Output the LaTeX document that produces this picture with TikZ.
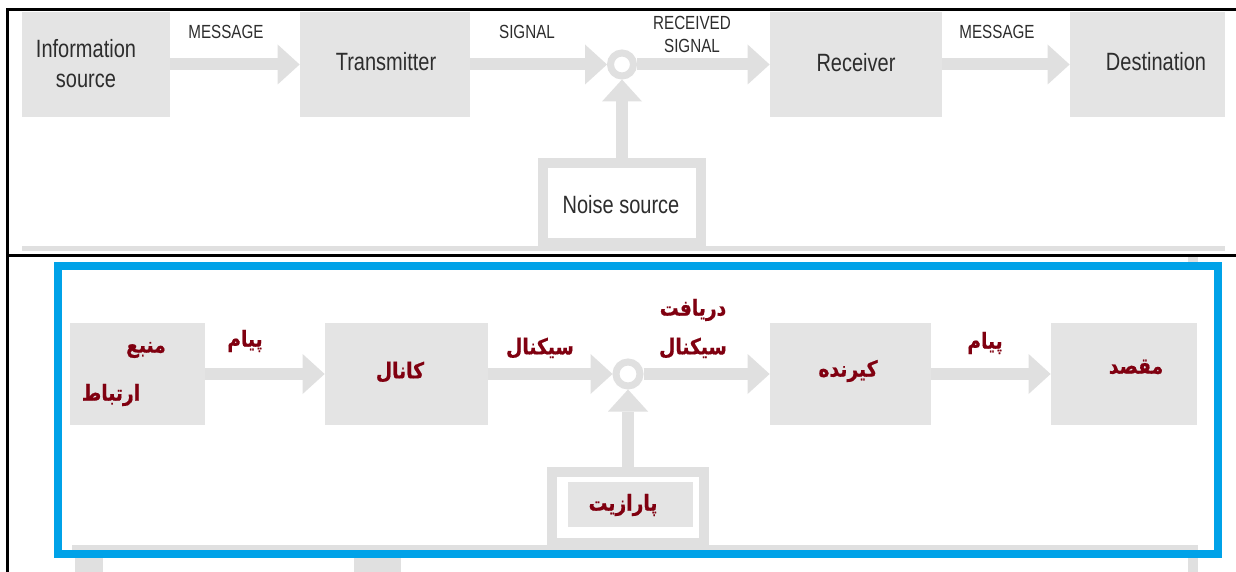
\documentclass[tikz,border=0pt]{standalone}
\usepackage{fontspec}
\setmainfont{Liberation Sans}
\newfontfamily\condfont[FakeStretch=0.8]{Liberation Sans}
\newfontfamily\fafont[Script=Arabic, FakeStretch=0.85, BoldFeatures={FakeBold=0.8}]{DejaVu Sans}
\TeXXeTstate=1
\usepackage{tikz}
\usetikzlibrary{arrows.meta}
\definecolor{boxgray}{RGB}{228,228,228}
\definecolor{linegray}{RGB}{224,224,224}
\definecolor{textgray}{RGB}{45,45,45}
\definecolor{faRed}{RGB}{128,0,16}
\definecolor{frameblue}{RGB}{0,162,232}

\begin{document}
\begin{tikzpicture}[x=0.5pt, y=-0.5pt,
    blockbox/.style={fill=boxgray, inner sep=0pt},
    flow/.style={draw=linegray, line width=6pt,
      -{Triangle[length=11pt, width=20pt, line width=0pt]}},
    sumring/.style={circle, draw=linegray, fill=white, inner sep=0pt},
    noiseframe/.style={draw=linegray, line width=5pt, fill=white, inner sep=0pt},
    boxtext/.style={font=\condfont\fontsize{12.5}{15}\selectfont, text=textgray, align=center},
    flowlabel/.style={font=\condfont\fontsize{9.5}{11.5}\selectfont, text=textgray, align=center},
    fatext/.style={font=\fafont\bfseries\fontsize{11}{13}\selectfont, text=faRed}]
  \useasboundingbox[fill=white] (0,0) rectangle (1236,572);

  % english diagram
  \fill[linegray] (22,246) rectangle (1225,251);
  \node[blockbox, minimum width=74pt, minimum height=52.5pt] (src) at (96,64.5) {};
  \node[blockbox, minimum width=85pt, minimum height=52.5pt] (tx) at (385,64.5) {};
  \node[blockbox, minimum width=86pt, minimum height=52.5pt] (rx) at (856,64.5) {};
  \node[blockbox, minimum width=77.5pt, minimum height=52.5pt] (dst) at (1147.5,64.5) {};
  \node[sumring, line width=3.5pt, minimum size=11.5pt] (sum) at (622,64.5) {};
  \node[noiseframe, minimum width=79pt, minimum height=40pt] (noise) at (622,203) {};

  \draw[flow] (src) -- (tx);
  \draw[flow] (tx) -- (sum);
  \draw[flow] (sum) -- (rx);
  \draw[flow] (rx) -- (dst);
  \draw[flow] (noise) -- (sum);

  \node[boxtext] (srctxt) at (86,64) {Information\\source};
  \node[boxtext] (txtxt) at (386,62) {Transmitter};
  \node[boxtext] (rxtxt) at (856,63) {Receiver};
  \node[boxtext] (dsttxt) at (1156,62) {Destination};
  \node[boxtext] (noisetxt) at (621,205) {Noise source};
  \node[flowlabel] (msga) at (226,32) {MESSAGE};
  \node[flowlabel] (sig) at (527,32) {SIGNAL};
  \node[flowlabel] (rsig) at (692,34) {RECEIVED\\SIGNAL};
  \node[flowlabel] (msgb) at (997,32) {MESSAGE};

  % persian diagram
  \fill[linegray] (1188,257) rectangle (1198,262);
  \fill[linegray] (75,558) rectangle (103,572);
  \fill[linegray] (354,558) rectangle (401,572);
  \fill[linegray] (1188,558) rectangle (1198,572);
  \fill[linegray] (72,545) rectangle (1198,550);
  \node[blockbox, minimum width=67.5pt, minimum height=51pt] (fsrc) at (137.5,374) {};
  \node[blockbox, minimum width=81.5pt, minimum height=51pt] (fch) at (406.5,374) {};
  \node[blockbox, minimum width=80.5pt, minimum height=51pt] (frx) at (850.5,374) {};
  \node[blockbox, minimum width=73pt, minimum height=51pt] (fdst) at (1124,374) {};
  \node[sumring, line width=3.5pt, minimum size=12pt] (fsum) at (628,374) {};
  \node[noiseframe, minimum width=76pt, minimum height=35.5pt] (fnoise) at (628,507.5) {};
  \node[blockbox, minimum width=62.5pt, minimum height=22.5pt] (fnoisebox) at (630.5,504.5) {};

  \draw[flow] (fsrc) -- (fch);
  \draw[flow] (fch) -- (fsum);
  \draw[flow] (fsum) -- (frx);
  \draw[flow] (frx) -- (fdst);
  \draw[flow] (fnoise) -- (fsum);

  \node[fatext] (fsrca) at (146,350) {\beginR منبع\endR};
  \node[fatext] (fsrcb) at (111,395) {\beginR ارتباط\endR};
  \node[fatext] (fchtxt) at (400,372) {\beginR کانال\endR};
  \node[fatext] (frxtxt) at (848,371) {\beginR کیرنده\endR};
  \node[fatext] (fdsttxt) at (1136,367) {\beginR مقصد\endR};
  \node[fatext] (fnoisetxt) at (623,505) {\beginR پارازیت\endR};
  \node[fatext] (fmsga) at (245,341) {\beginR پیام\endR};
  \node[fatext] (fsig) at (540,348) {\beginR سیکنال\endR};
  \node[fatext] (frsiga) at (693,310) {\beginR دریافت\endR};
  \node[fatext] (frsigb) at (693,348) {\beginR سیکنال\endR};
  \node[fatext] (fmsgb) at (985,343) {\beginR پیام\endR};

  \draw[frameblue, line width=4pt] (58,266) rectangle (1218,554);

  % panel rules
  \draw[black, line width=1.5pt] (1236,10) -- (7,10) -- (7,572);
  \draw[black, line width=1.5pt] (7,256) -- (1236,256);
\end{tikzpicture}
\end{document}
